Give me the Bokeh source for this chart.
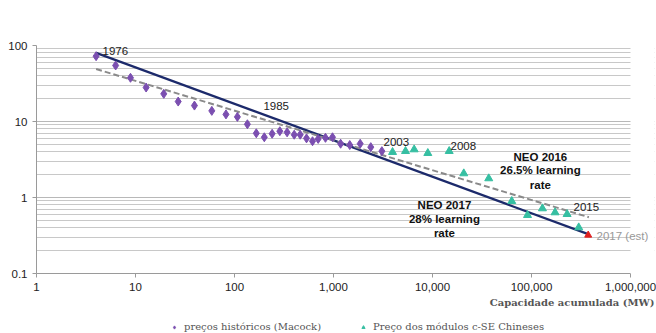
from bokeh.plotting import figure
from bokeh.layouts import column
from bokeh.models import (Range1d, FixedTicker, NumeralTickFormatter, Legend, LegendItem,
                          Title, BoxAnnotation)
from bokeh.core.properties import value
from bokeh.embed import file_html
from bokeh.resources import INLINE

# ---- data ----
hist_x = [4.0, 6.3, 8.9, 12.8, 19.3, 27, 39.4, 59, 82, 107, 135, 166, 200, 240, 287, 340, 401, 461,
          534, 614, 700, 830, 977, 1180, 1460, 1860, 2380, 3080]
hist_y = [72.3, 54.6, 37.6, 28, 23.1, 18.3, 16.2, 13.8, 12.4, 11.5, 9.2, 7.0, 6.2, 6.9, 7.45, 7.2, 6.7, 6.7,
          6.0, 5.5, 5.9, 6.1, 6.2, 5.1, 4.9, 5.1, 4.6, 4.07]
cn_x = [3950, 5340, 6530, 8970, 14750, 20700, 37000, 63200, 91200, 129000, 173000, 229000, 300000]
cn_y = [3.95, 4.07, 4.28, 3.83, 4.07, 2.07, 1.78, 0.895, 0.585, 0.717, 0.635, 0.603, 0.403]
est_x = [374000]
est_y = [0.32]
neo2017_x = [4.0, 374000]
neo2017_y = [80.0, 0.33]
neo2016_x = [4.0, 380000]
neo2016_y = [49.0, 0.55]

ann_text = ["1976", "1985", "2003", "2008", "2015"]
ann_x = [4.64, 196, 3200, 15200, 266000]
ann_y = [83.4, 15.8, 5.45, 4.69, 0.76]

neo16_text = ["NEO 2016", "26.5% learning", "rate"]
neo16_x = [123000, 123000, 123000]
neo16_y = [3.46, 2.27, 1.48]
neo17_text = ["NEO 2017", "28% learning", "rate"]
neo17_x = [13200, 13200, 13200]
neo17_y = [0.785, 0.514, 0.336]

est_text = ["2017 (est)"]
est_lx = [454000]
est_ly = [0.316]

legend_labels = ["preços históricos (Macock)", "Preço dos módulos c-SE Chineses"]
x_title = "Capacidade acumulada (MW)"

x_ticks = [1, 10, 100, 1000, 10000, 100000, 1000000]
y_ticks = [0.1, 1, 10, 100]
y_minor = [m * 10.0 ** k for k in range(-1, 2) for m in range(2, 10)]

SANS = "Liberation Sans"
SERIF = "DejaVu Serif"
PURPLE = "#7b4fb0"
TEAL = "#36bfa2"

X_END = 1.748e6  # frame extends a little past 1,000,000 so the "2017 (est)" note fits

p = figure(width=656, height=312, x_axis_type="log", y_axis_type="log",
           x_range=Range1d(1, X_END), y_range=Range1d(0.1, 100),
           output_backend="svg", toolbar_location=None,
           min_border_left=36, min_border_right=2, min_border_top=45, min_border_bottom=39)
p.outline_line_color = None
p.background_fill_color = "white"
p.border_fill_color = "white"

# grid
p.xgrid.grid_line_color = None
p.ygrid.grid_line_color = "#b8b8b8"
p.ygrid.minor_grid_line_color = "#c8c8c8"

# axes
p.xaxis.ticker = FixedTicker(ticks=x_ticks, minor_ticks=[])
p.yaxis.ticker = FixedTicker(ticks=y_ticks, minor_ticks=y_minor)
p.xaxis.formatter = NumeralTickFormatter(format="0,0")
p.yaxis.formatter = NumeralTickFormatter(format="0.[0]")
p.xaxis.bounds = (1, 1e6)
for ax in (p.xaxis[0], p.yaxis[0]):
    ax.axis_line_color = "#9a9a9a"
    ax.major_tick_line_color = "#9a9a9a"
    ax.minor_tick_line_color = None
    ax.major_tick_in = 0
    ax.major_tick_out = 4
    ax.major_label_text_font = SANS
    ax.major_label_text_font_size = "11.5px"
    ax.major_label_text_color = "#222222"
    ax.major_label_standoff = 5

# blank out the grid beyond 1,000,000
p.add_layout(BoxAnnotation(left=1e6, fill_color="white", fill_alpha=1, line_color=None))

# lines
p.line(neo2017_x, neo2017_y, line_color="#1c2a6b", line_width=2.2)
p.line(neo2016_x, neo2016_y, line_color="#8a8a8a", line_width=2, line_dash="6 3")

# markers
p.scatter(hist_x, hist_y, marker="diamond", size=9, fill_color=PURPLE, line_color=PURPLE)
p.scatter(cn_x, cn_y, marker="triangle", size=8, fill_color=TEAL, line_color=TEAL)
p.scatter(est_x, est_y, marker="triangle", size=7, fill_color="#e02020", line_color="#e02020")

# annotations
p.text(ann_x, ann_y, text=ann_text, text_font=value(SANS), text_font_size="11.5px",
       text_color="#222222", text_align="left", text_baseline="middle")
p.text(neo16_x, neo16_y, text=neo16_text, text_font=value(SANS), text_font_size="11.5px",
       text_font_style="bold", text_color="#111111", text_align="center", text_baseline="middle")
p.text(neo17_x, neo17_y, text=neo17_text, text_font=value(SANS), text_font_size="11.5px",
       text_font_style="bold", text_color="#111111", text_align="center", text_baseline="middle")
est_r = p.text(est_lx, est_ly, text=est_text, text_font=value(SANS), text_font_size="11.5px",
               text_color="#999999", text_align="left", text_baseline="middle")
est_r.level = "overlay"

# x axis title
p.add_layout(Title(text=x_title, align="right", text_font=SERIF,
                   text_font_size="10px", text_font_style="bold", text_color="#555555",
                   standoff=3), "below")

# ---- legend strip (second small figure) ----
lg = figure(width=656, height=21, x_range=Range1d(0, 1), y_range=Range1d(0, 1),
            output_backend="svg", toolbar_location=None,
            x_axis_location=None, y_axis_location=None,
            min_border_left=0, min_border_right=0, min_border_top=0, min_border_bottom=0)
lg.outline_line_color = None
lg.grid.grid_line_color = None
# same series, drawn out of this strip's view; only their legend glyphs show
lr_hist = lg.scatter(hist_x, hist_y, marker="diamond", size=9, fill_color=PURPLE, line_color=PURPLE)
lr_cn = lg.scatter(cn_x, cn_y, marker="triangle", size=8, fill_color=TEAL, line_color=TEAL)

legend = Legend(items=[LegendItem(label=legend_labels[0], renderers=[lr_hist]),
                       LegendItem(label=legend_labels[1], renderers=[lr_cn])],
                orientation="horizontal", location=(134, 1),
                label_text_font=SERIF, label_text_font_size="10px", label_text_color="#555555",
                glyph_width=8, glyph_height=8, spacing=38, padding=2, margin=0,
                label_standoff=6, label_height=8, background_fill_alpha=0, border_line_color=None)
lg.add_layout(legend, "center")

layout = column(p, lg, spacing=0)
open("out.html", "w").write(file_html(layout, INLINE))
